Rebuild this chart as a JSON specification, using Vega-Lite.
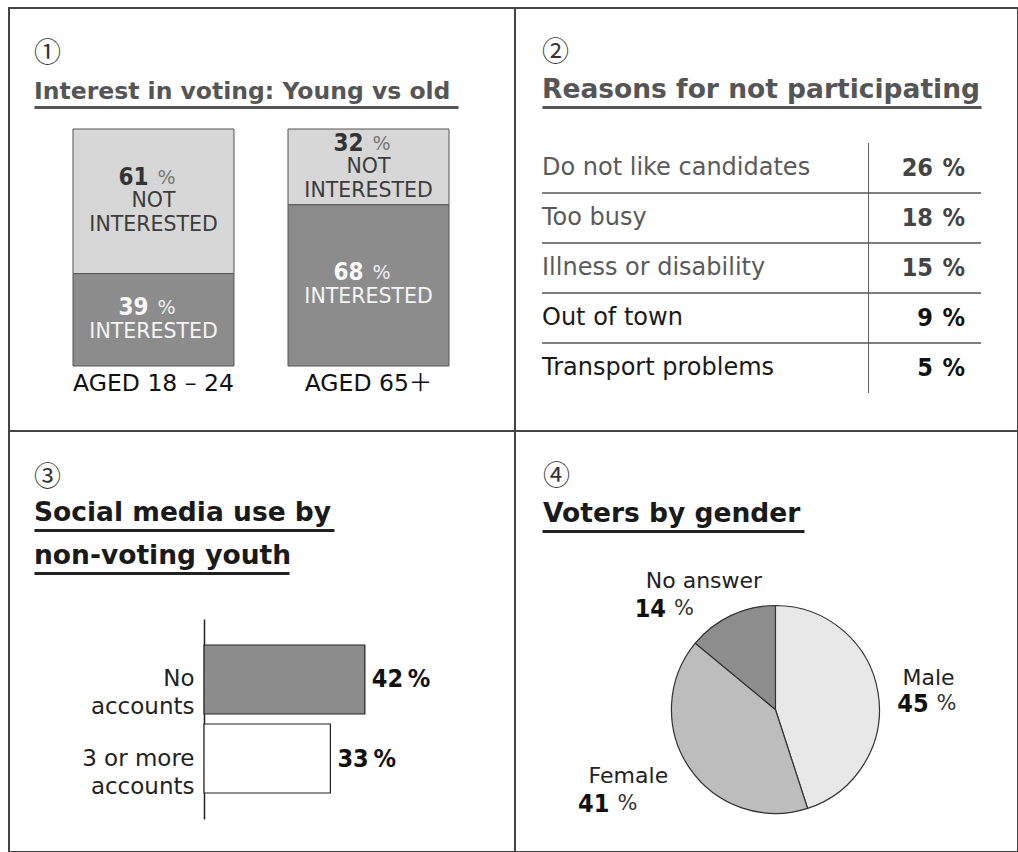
{
  "$schema": "https://vega.github.io/schema/vega-lite/v6.json",
  "padding": {"left": 8, "top": 7, "right": 0, "bottom": 0},
  "background": "white",
  "config": {
    "view": {"stroke": "#444", "strokeWidth": 2},
    "title": {"anchor": "start", "frame": "group", "dx": 25, "font": "Noto Sans CJK JP", "fontSize": 27, "fontWeight": "normal", "color": "#333", "subtitleFont": "DejaVu Sans", "subtitleFontSize": 26.5, "subtitleFontWeight": "bold", "subtitlePadding": 9.5}
  },
  "columns": 2,
  "spacing": 0,
  "bounds": "flush",
  "resolve": {"scale": {"color": "independent"}},
  "concat": [
    {
      "width": 506,
      "height": 423,
      "title": {"text": "①", "subtitle": "Interest in voting: Young vs old", "subtitleColor": "#555", "subtitleFontSize": 23.5, "subtitlePadding": 11.5, "offset": -96},
      "data": {"values": [
        {"group": "AGED 18 – 24", "status": "NOT INTERESTED", "pct": 61},
        {"group": "AGED 18 – 24", "status": "INTERESTED", "pct": 39},
        {"group": "AGED 65＋", "status": "NOT INTERESTED", "pct": 32},
        {"group": "AGED 65＋", "status": "INTERESTED", "pct": 68}
      ]},
      "layer": [
        {
          "mark": {"type": "bar", "stroke": "#555", "strokeWidth": 1},
          "encoding": {
            "x": {"field": "group", "type": "nominal", "sort": null,
              "scale": {"range": [25, 449], "paddingInner": 0.2512, "paddingOuter": 0.1116, "align": 0.8125},
              "axis": {"orient": "top", "offset": -99, "domain": true, "domainWidth": 3, "domainColor": "#555", "domainCap": "butt", "labels": false, "ticks": false, "grid": false, "title": null}},
            "y": {"field": "pct", "type": "quantitative", "stack": "zero", "scale": {"domain": [0, 100], "range": [358, 121], "nice": false}, "axis": null},
            "color": {"field": "status", "type": "nominal", "scale": {"domain": ["INTERESTED", "NOT INTERESTED"], "range": ["#8c8c8c", "#d7d7d7"]}, "legend": null},
            "order": {"field": "status", "sort": "ascending"}
          }
        },
        {
          "transform": [{"filter": "datum.status === 'INTERESTED'"}],
          "mark": {"type": "text", "align": "center", "baseline": "middle", "dy": 18, "font": "DejaVu Sans, Noto Sans CJK JP", "fontSize": 23.5, "fill": "#111"},
          "encoding": {
            "x": {"field": "group", "type": "nominal", "sort": null},
            "y": {"datum": 0, "type": "quantitative", "axis": null},
            "text": {"field": "group"}
          }
        },
        {
          "mark": {"type": "text", "align": "right", "baseline": "middle", "dx": -5, "dy": -23, "font": "Liberation Sans Narrow, DejaVu Sans Condensed, sans-serif", "fontWeight": "bold", "fontSize": 24, "fill": "#333"},
          "encoding": {
            "x": {"field": "group", "type": "nominal", "sort": null},
            "y": {"field": "pct", "type": "quantitative", "stack": "zero", "bandPosition": 0.5, "axis": null},
            "detail": {"field": "status"},
            "order": {"field": "status", "sort": "ascending"},
            "text": {"condition": {"test": "datum.status === 'NOT INTERESTED'", "field": "pct", "type": "quantitative"}, "value": ""}
          }
        },
        {
          "mark": {"type": "text", "align": "left", "baseline": "middle", "dx": 4, "dy": -23, "font": "DejaVu Sans", "fontSize": 19, "fill": "#777"},
          "encoding": {
            "x": {"field": "group", "type": "nominal", "sort": null},
            "y": {"field": "pct", "type": "quantitative", "stack": "zero", "bandPosition": 0.5, "axis": null},
            "detail": {"field": "status"},
            "order": {"field": "status", "sort": "ascending"},
            "text": {"condition": {"test": "datum.status === 'NOT INTERESTED'", "value": "%"}, "value": ""}
          }
        },
        {
          "mark": {"type": "text", "align": "center", "baseline": "middle", "dy": 0, "lineBreak": " ", "lineHeight": 24, "font": "DejaVu Sans", "fontSize": 20.5, "fill": "#3c3c3c"},
          "encoding": {
            "x": {"field": "group", "type": "nominal", "sort": null},
            "y": {"field": "pct", "type": "quantitative", "stack": "zero", "bandPosition": 0.5, "axis": null},
            "detail": {"field": "status"},
            "order": {"field": "status", "sort": "ascending"},
            "text": {"condition": {"test": "datum.status === 'NOT INTERESTED'", "field": "status"}, "value": ""}
          }
        },
        {
          "mark": {"type": "text", "align": "right", "baseline": "middle", "dx": -5, "dy": -12, "font": "Liberation Sans Narrow, DejaVu Sans Condensed, sans-serif", "fontWeight": "bold", "fontSize": 24, "fill": "#f8f8f8"},
          "encoding": {
            "x": {"field": "group", "type": "nominal", "sort": null},
            "y": {"field": "pct", "type": "quantitative", "stack": "zero", "bandPosition": 0.5, "axis": null},
            "detail": {"field": "status"},
            "order": {"field": "status", "sort": "ascending"},
            "text": {"condition": {"test": "datum.status === 'INTERESTED'", "field": "pct", "type": "quantitative"}, "value": ""}
          }
        },
        {
          "mark": {"type": "text", "align": "left", "baseline": "middle", "dx": 4, "dy": -12, "font": "DejaVu Sans", "fontSize": 19, "fill": "#eeeeee"},
          "encoding": {
            "x": {"field": "group", "type": "nominal", "sort": null},
            "y": {"field": "pct", "type": "quantitative", "stack": "zero", "bandPosition": 0.5, "axis": null},
            "detail": {"field": "status"},
            "order": {"field": "status", "sort": "ascending"},
            "text": {"condition": {"test": "datum.status === 'INTERESTED'", "value": "%"}, "value": ""}
          }
        },
        {
          "mark": {"type": "text", "align": "center", "baseline": "middle", "dy": 12, "font": "DejaVu Sans", "fontSize": 20.5, "fill": "#f5f5f5"},
          "encoding": {
            "x": {"field": "group", "type": "nominal", "sort": null},
            "y": {"field": "pct", "type": "quantitative", "stack": "zero", "bandPosition": 0.5, "axis": null},
            "detail": {"field": "status"},
            "order": {"field": "status", "sort": "ascending"},
            "text": {"condition": {"test": "datum.status === 'INTERESTED'", "field": "status"}, "value": ""}
          }
        }
      ]
    },
    {
      "width": 503,
      "height": 423,
      "title": {"text": "②", "subtitle": "Reasons for not participating", "subtitleColor": "#555", "offset": -96, "dx": 27},
      "data": {"values": [
        {"reason": "Do not like candidates", "pct": 26},
        {"reason": "Too busy", "pct": 18},
        {"reason": "Illness or disability", "pct": 15},
        {"reason": "Out of town", "pct": 9},
        {"reason": "Transport problems", "pct": 5}
      ]},
      "layer": [
        {
          "mark": {"type": "rect", "fill": "#666"},
          "encoding": {
            "x": {"datum": 74.26, "type": "quantitative", "scale": {"domain": [0, 100], "range": [27, 466], "nice": false, "zero": false},
              "axis": {"orient": "top", "offset": -99, "domain": true, "domainWidth": 3, "domainColor": "#555", "domainCap": "butt", "labels": false, "ticks": false, "grid": false, "title": null}},
            "x2": {"datum": 74.5},
            "y": {"field": "reason", "type": "nominal", "sort": null, "scale": {"range": [135, 385], "paddingInner": 0, "paddingOuter": 0}, "axis": null}
          }
        },
        {
          "transform": [{"filter": "datum.reason !== 'Transport problems'"}],
          "mark": {"type": "rule", "stroke": "#555", "strokeWidth": 1.5},
          "encoding": {
            "x": {"datum": 0, "type": "quantitative"},
            "x2": {"datum": 100},
            "y": {"field": "reason", "type": "nominal", "sort": null, "bandPosition": 1, "axis": null}
          }
        },
        {
          "mark": {"type": "text", "align": "left", "baseline": "middle", "font": "DejaVu Sans", "fontSize": 24},
          "encoding": {
            "x": {"datum": 0, "type": "quantitative"},
            "y": {"field": "reason", "type": "nominal", "sort": null, "axis": null},
            "text": {"field": "reason"},
            "color": {"condition": {"test": "datum.pct >= 15", "value": "#5a5a5a"}, "value": "#1a1a1a"}
          }
        },
        {
          "mark": {"type": "text", "align": "right", "baseline": "middle", "font": "Liberation Sans Narrow, DejaVu Sans Condensed, sans-serif", "fontWeight": "bold", "fontSize": 25},
          "encoding": {
            "x": {"datum": 89.07, "type": "quantitative"},
            "y": {"field": "reason", "type": "nominal", "sort": null, "axis": null},
            "text": {"field": "pct", "type": "quantitative"},
            "color": {"condition": {"test": "datum.pct >= 15", "value": "#444"}, "value": "#111"}
          }
        },
        {
          "mark": {"type": "text", "align": "right", "baseline": "middle", "font": "Liberation Sans Narrow, DejaVu Sans Condensed, sans-serif", "fontWeight": "bold", "fontSize": 25},
          "encoding": {
            "x": {"datum": 96.36, "type": "quantitative"},
            "y": {"field": "reason", "type": "nominal", "sort": null, "axis": null},
            "text": {"value": "%"},
            "color": {"condition": {"test": "datum.pct >= 15", "value": "#444"}, "value": "#111"}
          }
        }
      ]
    },
    {
      "width": 506,
      "height": 421,
      "title": {"text": "③", "subtitle": ["Social media use by", "non-voting youth"], "subtitleLineHeight": 43, "subtitleColor": "#1a1a1a", "offset": -139, "subtitlePadding": 7.5},
      "data": {"values": [
        {"category": "No accounts", "pct": 42},
        {"category": "3 or more accounts", "pct": 33}
      ]},
      "layer": [
        {
          "mark": {"type": "bar", "stroke": "#222", "strokeWidth": 1.2},
          "encoding": {
            "x": {"field": "pct", "type": "quantitative", "scale": {"domain": [0, 100], "range": [195, 578], "nice": false}, "axis": null},
            "y": {"field": "category", "type": "nominal", "sort": null,
              "scale": {"range": [188, 388], "paddingInner": 0.1266, "paddingOuter": 0.329},
              "axis": {"orient": "left", "offset": -195, "domain": true, "domainColor": "#222", "domainWidth": 1.5, "ticks": false, "grid": false, "labelPadding": 10, "labelFontSize": 23, "labelFont": "DejaVu Sans", "labelColor": "#222", "labelLineHeight": 28, "labelOverlap": false, "labelExpr": "[slice(datum.value, 0, lastindexof(datum.value, ' ')), slice(datum.value, lastindexof(datum.value, ' ') + 1)]", "title": null}},
            "color": {"field": "category", "type": "nominal", "scale": {"domain": ["No accounts", "3 or more accounts"], "range": ["#8c8c8c", "#ffffff"]}, "legend": null}
          }
        },
        {
          "mark": {"type": "text", "align": "left", "baseline": "middle", "dx": 7, "font": "Liberation Sans Narrow, DejaVu Sans Condensed, sans-serif", "fontWeight": "bold", "fontSize": 25, "fill": "#111"},
          "encoding": {
            "x": {"field": "pct", "type": "quantitative", "scale": {"domain": [0, 100], "range": [195, 578], "nice": false}, "axis": null},
            "y": {"field": "category", "type": "nominal", "sort": null},
            "text": {"field": "pct", "type": "quantitative"}
          }
        },
        {
          "mark": {"type": "text", "align": "left", "baseline": "middle", "dx": 43, "font": "Liberation Sans Narrow, DejaVu Sans Condensed, sans-serif", "fontWeight": "bold", "fontSize": 25, "fill": "#111"},
          "encoding": {
            "x": {"field": "pct", "type": "quantitative", "scale": {"domain": [0, 100], "range": [195, 578], "nice": false}, "axis": null},
            "y": {"field": "category", "type": "nominal", "sort": null},
            "text": {"value": "%"}
          }
        },
        {
          "mark": {"type": "rule", "opacity": 0},
          "encoding": {
            "x": {"datum": 0, "type": "quantitative", "scale": {"domain": [0, 1], "range": [25, 325], "nice": false},
              "axis": {"orient": "top", "offset": -99, "domain": true, "domainWidth": 3, "domainColor": "#222", "domainCap": "butt", "labels": false, "ticks": false, "grid": false, "title": null}},
            "y": {"field": "category", "type": "nominal", "sort": null}
          }
        },
        {
          "mark": {"type": "rule", "opacity": 0},
          "encoding": {
            "x": {"datum": 0, "type": "quantitative", "scale": {"domain": [0, 1], "range": [25, 280], "nice": false},
              "axis": {"orient": "bottom", "offset": -279, "domain": true, "domainWidth": 3, "domainColor": "#222", "domainCap": "butt", "labels": false, "ticks": false, "grid": false, "title": null}},
            "y": {"field": "category", "type": "nominal", "sort": null}
          }
        }
      ],
      "resolve": {"scale": {"x": "independent"}, "axis": {"x": "independent"}}
    },
    {
      "width": 503,
      "height": 421,
      "title": {"text": "④", "subtitle": "Voters by gender", "subtitleColor": "#1a1a1a", "offset": -97, "dx": 28},
      "data": {"values": [
        {"gender": "Male", "pct": 45},
        {"gender": "Female", "pct": 41},
        {"gender": "No answer", "pct": 14}
      ]},
      "layer": [
        {
          "mark": {"type": "arc", "outerRadius": 104, "stroke": "#333", "strokeWidth": 1.2},
          "encoding": {
            "theta": {"field": "pct", "type": "quantitative", "stack": true},
            "order": {"field": "pct", "type": "quantitative", "sort": "descending"},
            "x": {"datum": 0.891, "type": "quantitative", "scale": {"domain": [0, 1], "range": [27, 289], "nice": false, "zero": false},
              "axis": {"orient": "top", "offset": -100, "domain": true, "domainWidth": 3, "domainColor": "#222", "domainCap": "butt", "labels": false, "ticks": false, "grid": false, "title": null}},
            "y": {"datum": 0.6615, "type": "quantitative", "scale": {"domain": [0, 1], "range": [0, 421], "nice": false, "zero": false}, "axis": null},
            "color": {"field": "gender", "type": "nominal", "scale": {"domain": ["Male", "Female", "No answer"], "range": ["#e8e8e8", "#bdbdbd", "#8d8d8d"]}, "legend": null}
          }
        },
        {
          "mark": {"type": "text", "radius": 153, "align": "center", "baseline": "middle", "dx": 2, "dy": -8, "font": "DejaVu Sans", "fontSize": 22, "fill": "#222"},
          "encoding": {
            "theta": {"field": "pct", "type": "quantitative", "stack": true},
            "order": {"field": "pct", "type": "quantitative", "sort": "descending"},
            "x": {"datum": 0.891, "type": "quantitative"},
            "y": {"datum": 0.6615, "type": "quantitative", "axis": null},
            "text": {"condition": {"test": "datum.gender === 'Male'", "field": "gender"}, "value": ""}
          }
        },
        {
          "mark": {"type": "text", "radius": 150, "align": "center", "baseline": "middle", "dx": -23, "dy": -18, "font": "DejaVu Sans", "fontSize": 22, "fill": "#222"},
          "encoding": {
            "theta": {"field": "pct", "type": "quantitative", "stack": true},
            "order": {"field": "pct", "type": "quantitative", "sort": "descending"},
            "x": {"datum": 0.891, "type": "quantitative"},
            "y": {"datum": 0.6615, "type": "quantitative", "axis": null},
            "text": {"condition": {"test": "datum.gender === 'Female'", "field": "gender"}, "value": ""}
          }
        },
        {
          "mark": {"type": "text", "radius": 128, "align": "center", "baseline": "middle", "dx": -17, "dy": -13, "font": "DejaVu Sans", "fontSize": 22, "fill": "#222"},
          "encoding": {
            "theta": {"field": "pct", "type": "quantitative", "stack": true},
            "order": {"field": "pct", "type": "quantitative", "sort": "descending"},
            "x": {"datum": 0.891, "type": "quantitative"},
            "y": {"datum": 0.6615, "type": "quantitative", "axis": null},
            "text": {"condition": {"test": "datum.gender === 'No answer'", "field": "gender"}, "value": ""}
          }
        },
        {
          "mark": {"type": "text", "radius": 153, "align": "right", "baseline": "middle", "dx": 2, "dy": 18, "font": "Liberation Sans Narrow, DejaVu Sans Condensed, sans-serif", "fontWeight": "bold", "fontSize": 25, "fill": "#111"},
          "encoding": {
            "theta": {"field": "pct", "type": "quantitative", "stack": true},
            "order": {"field": "pct", "type": "quantitative", "sort": "descending"},
            "x": {"datum": 0.891, "type": "quantitative"},
            "y": {"datum": 0.6615, "type": "quantitative", "axis": null},
            "text": {"condition": {"test": "datum.gender === 'Male'", "field": "pct", "type": "quantitative"}, "value": ""}
          }
        },
        {
          "mark": {"type": "text", "radius": 150, "align": "right", "baseline": "middle", "dx": -42, "dy": 10, "font": "Liberation Sans Narrow, DejaVu Sans Condensed, sans-serif", "fontWeight": "bold", "fontSize": 25, "fill": "#111"},
          "encoding": {
            "theta": {"field": "pct", "type": "quantitative", "stack": true},
            "order": {"field": "pct", "type": "quantitative", "sort": "descending"},
            "x": {"datum": 0.891, "type": "quantitative"},
            "y": {"datum": 0.6615, "type": "quantitative", "axis": null},
            "text": {"condition": {"test": "datum.gender === 'Female'", "field": "pct", "type": "quantitative"}, "value": ""}
          }
        },
        {
          "mark": {"type": "text", "radius": 128, "align": "right", "baseline": "middle", "dx": -55, "dy": 15, "font": "Liberation Sans Narrow, DejaVu Sans Condensed, sans-serif", "fontWeight": "bold", "fontSize": 25, "fill": "#111"},
          "encoding": {
            "theta": {"field": "pct", "type": "quantitative", "stack": true},
            "order": {"field": "pct", "type": "quantitative", "sort": "descending"},
            "x": {"datum": 0.891, "type": "quantitative"},
            "y": {"datum": 0.6615, "type": "quantitative", "axis": null},
            "text": {"condition": {"test": "datum.gender === 'No answer'", "field": "pct", "type": "quantitative"}, "value": ""}
          }
        },
        {
          "mark": {"type": "text", "radius": 153, "align": "left", "baseline": "middle", "dx": 10, "dy": 18, "font": "DejaVu Sans", "fontSize": 21, "fill": "#333"},
          "encoding": {
            "theta": {"field": "pct", "type": "quantitative", "stack": true},
            "order": {"field": "pct", "type": "quantitative", "sort": "descending"},
            "x": {"datum": 0.891, "type": "quantitative"},
            "y": {"datum": 0.6615, "type": "quantitative", "axis": null},
            "text": {"condition": {"test": "datum.gender === 'Male'", "value": "%"}, "value": ""}
          }
        },
        {
          "mark": {"type": "text", "radius": 150, "align": "left", "baseline": "middle", "dx": -34, "dy": 10, "font": "DejaVu Sans", "fontSize": 21, "fill": "#333"},
          "encoding": {
            "theta": {"field": "pct", "type": "quantitative", "stack": true},
            "order": {"field": "pct", "type": "quantitative", "sort": "descending"},
            "x": {"datum": 0.891, "type": "quantitative"},
            "y": {"datum": 0.6615, "type": "quantitative", "axis": null},
            "text": {"condition": {"test": "datum.gender === 'Female'", "value": "%"}, "value": ""}
          }
        },
        {
          "mark": {"type": "text", "radius": 128, "align": "left", "baseline": "middle", "dx": -47, "dy": 15, "font": "DejaVu Sans", "fontSize": 21, "fill": "#333"},
          "encoding": {
            "theta": {"field": "pct", "type": "quantitative", "stack": true},
            "order": {"field": "pct", "type": "quantitative", "sort": "descending"},
            "x": {"datum": 0.891, "type": "quantitative"},
            "y": {"datum": 0.6615, "type": "quantitative", "axis": null},
            "text": {"condition": {"test": "datum.gender === 'No answer'", "value": "%"}, "value": ""}
          }
        }
      ]
    }
  ]
}
